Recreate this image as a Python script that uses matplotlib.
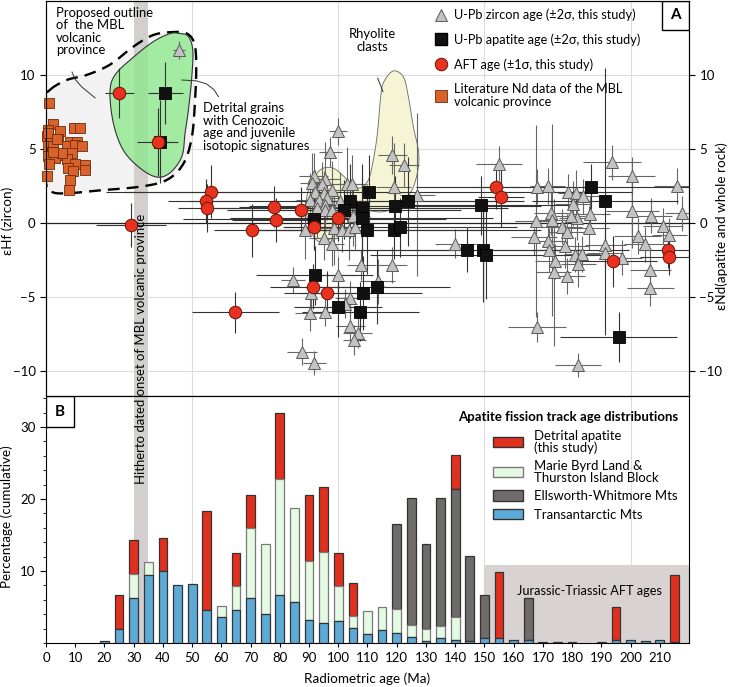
import matplotlib
matplotlib.use('Agg')
import matplotlib.pyplot as plt
from matplotlib.patches import Polygon, Rectangle, Patch
from matplotlib.lines import Line2D
import numpy as np

plt.rcParams['font.family'] = ['Lato', 'DejaVu Sans']
plt.rcParams['axes.unicode_minus'] = True

# ---------------- DATA: panel A ----------------
# U-Pb zircon ages (Ma) and eHf, with 2-sigma errors
zircon_age = [45.5, 99.9, 97.3, 118.5, 122.5, 91.6, 95.5, 91.0, 94.4, 103.0, 104.7, 119.0, 127.0,
              92.1, 95.0, 97.8, 90.4, 93.3, 96.1, 100.5, 95.5, 92.7, 95.5, 97.8, 105.0,
              98.4, 88.7, 101.3, 103.5, 105.8, 95.0, 97.8, 107.9, 118.5, 84.5, 99.8, 90.6,
              103.9, 102.4, 90.2, 95.3, 104.1, 106.6, 105.5, 87.6, 91.8, 113.5, 155.0, 140.0,
              168.0, 171.6, 167.5, 172.8, 173.2, 167.0, 171.7, 172.2, 174.3, 173.7, 168.0,
              193.7, 200.4, 216.0, 178.7, 181.2, 183.6, 180.3, 181.6, 179.5, 186.1, 200.6,
              207.1, 217.7, 176.5, 178.2, 185.7, 211.1, 213.2, 202.4, 204.9, 191.3, 177.7,
              191.2, 180.9, 183.5, 197.0, 182.1, 178.3, 206.7, 206.7, 182.0]
zircon_ehf = [11.7, 6.2, 4.8, 4.6, 3.9, 3.2, 3.0, 2.7, 2.6, 2.6, 2.6, 2.4, 1.9,
              2.1, 2.0, 2.2, 1.55, 1.55, 1.7, 1.45, 1.2, 1.0, 0.9, 0.9, 0.45,
              -0.35, -0.45, -0.5, -0.5, -0.25, -1.0, -1.4, -2.85, -2.85, -3.85, -3.5, -4.75,
              -5.1, -5.45, -6.1, -6.0, -7.0, -7.45, -7.9, -8.7, -9.45, -3.95, 4.0, -1.4,
              2.45, 2.5, 0.15, 0.7, 0.2, -0.95, -1.25, -1.85, -2.6, -3.35, -7.05,
              4.1, 3.15, 2.5, 2.1, 2.05, 1.8, 1.3, 0.35, 0.45, 0.6, 0.8,
              0.5, 0.65, -0.25, -0.6, -0.35, -0.2, -0.85, -0.9, -1.45, -1.5, -1.55,
              -2.05, -2.15, -2.1, -2.35, -2.8, -3.6, -3.2, -4.4, -9.6]
zircon_age_err = [2, 3, 4, 5, 5, 5, 5, 4, 5, 6, 5, 6, 6,
                  5, 4, 5, 5, 4, 5, 6, 4, 5, 5, 4, 6,
                  5, 6, 5, 5, 6, 5, 4, 5, 5, 4, 6, 4,
                  5, 4, 5, 4, 5, 5, 4, 5, 4, 6, 8, 7,
                  8, 6, 7, 6, 5, 8, 6, 6, 7, 6, 10,
                  10, 8, 8, 7, 6, 6, 6, 6, 5, 7, 9,
                  7, 6, 7, 6, 7, 7, 6, 8, 7, 7, 8,
                  6, 6, 6, 7, 6, 6, 7, 8, 8]
zircon_ehf_err = [0.6, 0.9, 1.0, 1.3, 1.5, 1.5, 2.5, 2.0, 1.5, 2.5, 2.0, 3.0, 5.5,
                  1.5, 1.5, 2.0, 1.8, 1.5, 1.5, 2.0, 1.5, 2.0, 1.5, 1.5, 2.0,
                  2.5, 2.0, 1.5, 2.0, 1.5, 1.5, 1.5, 1.0, 1.2, 0.9, 1.2, 1.5,
                  1.2, 1.0, 1.2, 1.0, 1.0, 1.0, 1.0, 0.9, 0.8, 1.5, 1.2, 1.0,
                  1.2, 1.2, 6.5, 1.5, 6.5, 1.2, 1.0, 1.5, 1.2, 5.0, 1.0,
                  1.2, 1.3, 1.2, 1.2, 1.5, 1.2, 1.5, 1.5, 1.2, 1.2, 2.5,
                  1.2, 1.2, 1.2, 1.2, 1.5, 1.2, 1.2, 1.2, 1.2, 1.5, 1.5,
                  1.2, 1.2, 1.2, 1.2, 1.5, 1.2, 1.5, 1.2, 0.8]

# U-Pb apatite ages (Ma) and eNd, with 2-sigma errors
apatite_age = [40.8, 39.0, 110.4, 103.9, 102.0, 108.1, 108.1, 91.8, 110.0, 119.5, 123.7, 119.2,
               121.0, 91.9, 99.8, 108.5, 113.2, 107.5, 148.9, 144.1, 149.6, 150.7, 186.5,
               191.4, 196.0]
apatite_end = [8.8, 5.5, 2.1, 1.5, 0.9, 1.0, 0.3, 0.25, -0.45, 1.15, 1.45, -0.45,
               -0.3, -3.55, -5.7, -4.75, -4.3, -6.0, 1.2, -1.8, -1.85, -2.15, 2.45,
               1.45, -7.7]
apatite_age_err = [6, 3, 90, 55, 40, 50, 45, 45, 40, 50, 40, 50,
                   40, 20, 15, 20, 25, 20, 30, 40, 50, 40, 60,
                   25, 20]
apatite_end_err = [2.1, 2.8, 2.5, 2.5, 2.0, 3.0, 3.0, 2.0, 3.0, 2.0, 3.0, 2.0,
                   2.0, 2.0, 2.0, 2.5, 2.5, 2.0, 2.0, 1.5, 3.5, 3.0, 1.5,
                   9.0, 1.7]

# AFT ages (Ma) with 1-sigma errors
aft_age = [25.1, 38.2, 29.1, 56.4, 54.6, 55.0, 70.5, 78.1, 78.7, 64.8, 87.2, 91.8, 100.0,
           91.5, 96.3, 154.0, 155.7, 194.0, 212.8, 213.2]
aft_eps = [8.8, 5.5, -0.15, 2.1, 1.5, 1.0, -0.5, 1.1, 0.2, -6.05, 0.9, -0.3, 0.3,
           -4.3, -4.75, 2.45, 1.75, -2.6, -1.85, -2.3]
aft_age_err = [5, 7, 12, 30, 13, 10, 13, 12, 15, 15, 12, 10, 12, 15, 15, 8, 8, 15, 10, 10]
aft_eps_err = [1.7, 2.3, 1.5, 1.8, 1.5, 1.6, 1.8, 1.4, 1.5, 1.4, 1.5, 1.5, 1.5,
               1.5, 1.5, 1.5, 2.0, 1.7, 1.2, 1.2]

# Literature Nd data of the MBL volcanic province (plotted in a column, no age)
lit_x = [1.0, 2.5, 0.8, 4.8, 9.6, 11.6, 0.2, 1.4, 4.2, 8.2, 10.5, 0.8, 2.5, 7.1, 9.9, 12.4,
         1.9, 4.2, 5.9, 8.8, 0.8, 3.1, 7.1, 9.9, 13.4, 1.1, 7.6, 9.4, 13.4, 0.2, 8.2, 7.8,
         0.6, 3.9, 5.4, 2.5]
lit_end = [8.1, 6.7, 6.3, 6.2, 6.4, 6.4, 5.9, 5.6, 5.7, 5.5, 5.5, 5.2, 5.2, 5.2, 5.3, 5.2,
           4.8, 4.6, 4.6, 4.7, 4.5, 4.4, 4.3, 4.0, 3.9, 4.0, 3.7, 3.5, 3.6, 3.2, 2.9, 2.25,
           6.1, 5.7, 4.7, 4.8]

# Outlined fields (age, epsilon)
mbl_outline_x = [1.4, 7.1, 13.9, 21.9, 29.8, 36.7, 43.5, 48.2, 50.8, 51.4, 51.0, 49.9, 47.0,
                 41.3, 32.2, 18.5, 7.1, 1.95, 0.0, -0.1, 0.0]
mbl_outline_y = [9.0, 9.66, 10.0, 10.7, 11.9, 12.7, 12.9, 12.8, 12.1, 10.6, 8.3, 5.8, 4.0,
                 2.9, 2.45, 2.2, 2.0, 2.1, 2.7, 4.9, 8.3]
cenozoic_x = [45.9, 48.7, 50.2, 49.9, 48.7, 47.6, 46.5, 42.5, 37.9, 32.2, 26.5, 23.1, 21.9,
              23.6, 29.9, 36.7, 42.5]
cenozoic_y = [12.8, 12.6, 11.7, 9.9, 7.6, 6.1, 4.5, 3.4, 3.1, 3.7, 4.9, 6.7, 8.8,
              10.0, 11.2, 12.25, 12.8]
rhyolite_x = [118.8, 122.3, 124.0, 125.7, 127.4, 127.4, 125.7, 122.9, 119.5, 114.4, 108.2,
              103.4, 99.0, 93.8, 90.4, 89.0, 90.4, 93.8, 97.9, 101.4, 104.1, 107.5, 110.3,
              112.0, 113.4, 114.4, 115.4]
rhyolite_y = [10.27, 9.86, 8.51, 6.49, 4.93, 3.78, 2.43, 1.55, 1.01, 0.74, 0.88,
              0.54, -0.81, -1.28, -0.47, 1.22, 2.57, 3.58, 3.72, 3.24, 2.70, 2.36, 2.91,
              4.26, 6.08, 8.31, 9.46]

# ---------------- DATA: panel B ----------------
bins = [20, 25, 30, 35, 40, 45, 50, 55, 60, 65, 70, 75, 80, 85, 90, 95, 100, 105, 110, 115,
        120, 125, 130, 135, 140, 145, 150, 155, 160, 165, 170, 175, 180, 185, 190, 195, 200,
        205, 210, 215]
transantarctic = [0.3, 2.0, 6.3, 9.5, 10.0, 8.0, 8.2, 4.6, 3.6, 4.6, 6.2, 4.0, 6.6, 5.7, 3.2,
                  2.8, 3.0, 2.1, 1.25, 1.8, 1.35, 0.8, 0.25, 0.7, 0.4, 0.3, 0.7, 0.7, 0.4, 0.4,
                  0, 0.2, 0, 0, 0, 0.35, 0.35, 0.25, 0.35, 0]
mbl_thurston = [0, 0, 3.3, 1.7, 0, 0, 0, 0, 1.6, 3.3, 9.8, 9.7, 16.2, 13.0, 8.2, 9.8, 4.9,
                1.65, 3.25, 3.25, 3.35, 1.65, 1.65, 1.66, 3.25, 0, 0, 0, 0, 0, 0, 0, 0, 0, 0,
                0, 0, 0, 0, 0]
ellsworth = [0, 0, 0, 0, 0, 0, 0, 0, 0, 0, 0, 0, 0, 0, 0, 0, 0, 0, 0, 0,
             11.8, 17.75, 11.85, 17.74, 17.75, 11.8, 6.0, 0, 0, 5.8, 0.15, 0, 0.15, 0, 0.15,
             0, 0, 0, 0, 0.2]
detrital = [0, 4.6, 4.7, 0, 4.6, 0, 0, 13.7, 0, 4.6, 4.6, 0, 9.1, 0, 9.1, 9.1, 4.55, 4.65,
            0, 0, 0, 0, 0, 0, 4.7, 0, 0, 9.1, 0, 0, 0, 0, 0, 0, 0, 4.6, 0, 0, 0, 9.2]

volcanic_onset = (30, 35)
jurassic_box = (150, 220, 10.8)


def smooth_closed(xs, ys, n=16):
    pts = np.column_stack([xs, ys])
    N = len(pts)
    out = []
    for i in range(N):
        p0, p1, p2, p3 = pts[(i - 1) % N], pts[i], pts[(i + 1) % N], pts[(i + 2) % N]
        for t in np.linspace(0, 1, n, endpoint=False):
            t2, t3 = t * t, t * t * t
            out.append(0.5 * ((2 * p1) + (-p0 + p2) * t + (2 * p0 - 5 * p1 + 4 * p2 - p3) * t2
                              + (-p0 + 3 * p1 - 3 * p2 + p3) * t3))
    return np.array(out)


W, H = 729, 687
fig = plt.figure(figsize=(W / 100, H / 100), dpi=100)
renderer = fig.canvas.get_renderer()


def fit_size(text, target_px, weight='normal', base=10.0):
    t = fig.text(0, 0, text, fontsize=base, fontweight=weight)
    w = t.get_window_extent(renderer=renderer).width
    t.remove()
    return base * target_px / w


FS_ANN = fit_size('isotopic signatures', 107)
FS_LEGA = fit_size('U-Pb zircon age (±2σ, this study)', 183)
FS_LEGB = fit_size('Ellsworth-Whitmore Mts', 143)
FS_TITB = fit_size('Apatite fission track age distributions', 220, weight='bold')
FS_BAND = fit_size('Hitherto dated onset of MBL volcanic province', 272)
FS_LAB = fit_size('Percentage (cumulative)', 142)
FS_JUR = fit_size('Jurassic-Triassic AFT ages', 145)
FS = 9.5

L, R = 46, 689
axA = fig.add_axes([L / W, 1 - 396 / H, (R - L) / W, (396 - 1) / H])
axB = fig.add_axes([L / W, 1 - 643 / H, (R - L) / W, (643 - 396) / H])

band_col = '#d4cfcf'

# ---------- Panel A ----------
axA.set_xlim(0, 220)
axA.set_ylim(-11.7, 15.0)
for v in [50, 100, 150, 200]:
    axA.axvline(v, color='#dcdcdc', lw=0.8, zorder=0)
for v in [-10, -5, 5, 10]:
    axA.axhline(v, color='#dcdcdc', lw=0.8, zorder=0)
axA.axhline(0, color='#222222', lw=0.9, zorder=2)

out = smooth_closed(mbl_outline_x, mbl_outline_y)
axA.add_patch(Polygon(out, closed=True, facecolor='#f2f2f2', edgecolor='none', zorder=0.5))
axA.axvspan(*volcanic_onset, color=band_col, lw=0, zorder=1)
axA.add_patch(Polygon(out, closed=True, facecolor='none', edgecolor='black', lw=1.7,
                      linestyle=(0, (5, 3)), zorder=1.2))
cz = smooth_closed(cenozoic_x, cenozoic_y)
axA.add_patch(Polygon(cz, closed=True, facecolor='#8fe88f', alpha=0.8, edgecolor='none', zorder=1.3))
axA.add_patch(Polygon(cz, closed=True, facecolor='none', edgecolor='#333333', lw=0.8, zorder=1.35))
rh = smooth_closed(rhyolite_x, rhyolite_y)
axA.add_patch(Polygon(rh, closed=True, facecolor='#f5f5d6', edgecolor='#666666', lw=0.6, zorder=1.4))

axA.errorbar(zircon_age, zircon_ehf, xerr=zircon_age_err, yerr=zircon_ehf_err, fmt='none',
             ecolor='#666666', elinewidth=0.8, capsize=0, zorder=3)
axA.errorbar(apatite_age, apatite_end, xerr=apatite_age_err, yerr=apatite_end_err, fmt='none',
             ecolor='#333333', elinewidth=0.8, capsize=0, zorder=3)
axA.errorbar(aft_age, aft_eps, xerr=aft_age_err, yerr=aft_eps_err, fmt='none',
             ecolor='#333333', elinewidth=0.8, capsize=0, zorder=3)

axA.plot(lit_x, lit_end, 's', ms=7.5, mfc='#d9612a', mec='#6e2a0c', mew=0.6, ls='none',
         zorder=5, clip_on=False)
axA.plot(zircon_age, zircon_ehf, '^', ms=9, mfc='#c3c3c3', mec='#5a5a5a', mew=0.7, ls='none', zorder=4)
axA.plot(apatite_age, apatite_end, 's', ms=8, mfc='#111111', mec='#000000', mew=0.6, ls='none', zorder=5)
axA.plot(aft_age, aft_eps, 'o', ms=9, mfc='#e8321f', mec='#6a1408', mew=0.7, ls='none', zorder=6)

axA.set_yticks([-10, -5, 0, 5, 10])
axA.tick_params(axis='y', labelsize=FS, direction='out', length=4, width=0.8)
axA.tick_params(axis='x', bottom=False, labelbottom=False)
axA.set_ylabel('εHf (zircon)', fontsize=FS_LAB)
axA.yaxis.set_label_coords(-0.050, 0.444)
axA2 = axA.twinx()
axA2.set_ylim(axA.get_ylim())
axA2.set_yticks([-10, -5, 0, 5, 10])
axA2.tick_params(axis='y', labelsize=FS, direction='out', length=4, width=0.8)
axA2.set_ylabel('εNd(apatite and whole rock)', fontsize=FS_LAB, rotation=90)
axA2.yaxis.set_label_coords(1.041, 0.43)

# annotations
axA.text(3.4, 14.6, 'Proposed outline\nof  the MBL\nvolcanic\nprovince', fontsize=FS_ANN,
         va='top', ha='left', linespacing=1.05, zorder=8)
axA.plot([8.9, 10.0, 12.2, 16.8], [10.2, 9.7, 9.2, 8.45], color='#333333', lw=0.7, zorder=8)
axA.text(53.8, 8.15, 'Detrital grains\nwith Cenozoic\nage and juvenile\nisotopic signatures',
         fontsize=FS_ANN, va='top', ha='left', linespacing=1.05, zorder=8)
axA.plot([46.5, 51.5, 55.0, 57.5, 59.0], [9.66, 9.6, 9.39, 9.0, 8.53], color='#333333', lw=0.7, zorder=8)
axA.text(111.8, 13.15, 'Rhyolite\nclasts', fontsize=FS_ANN, va='top', ha='center', linespacing=1.05, zorder=8)
axA.plot([113.5, 115.3], [9.78, 8.87], color='#333333', lw=0.7, zorder=8)

# panel label A
axA.add_patch(Rectangle((0.958, 0.927), 0.042, 0.073, transform=axA.transAxes,
                        facecolor='white', edgecolor='black', lw=1, zorder=9))
axA.text(0.979, 0.9635, 'A', transform=axA.transAxes, ha='center', va='center',
         fontsize=11, fontweight='bold', zorder=10)

hA = [Line2D([], [], marker='^', ls='none', ms=9, mfc='#c3c3c3', mec='#5a5a5a', mew=0.7),
      Line2D([], [], marker='s', ls='none', ms=8, mfc='#111111', mec='#000000'),
      Line2D([], [], marker='o', ls='none', ms=9, mfc='#e8321f', mec='#6a1408', mew=0.7),
      Line2D([], [], marker='s', ls='none', ms=8, mfc='#d9612a', mec='#6e2a0c', mew=0.6)]
labA = ['U-Pb zircon age (±2σ, this study)', 'U-Pb apatite age (±2σ, this study)',
        'AFT age (±1σ, this study)', 'Literature Nd data of the MBL\nvolcanic province']
fsA_px = FS_LEGA * 100 / 72
legA = axA.legend(hA, labA, loc='upper left', bbox_to_anchor=((434 - L) / (R - L), 1 - 7.5 / 395),
                  frameon=False, fontsize=FS_LEGA, handlelength=13 / fsA_px,
                  handletextpad=7 / fsA_px, labelspacing=12.3 / fsA_px,
                  borderpad=0, borderaxespad=0)
for t in legA.get_texts():
    t.set_linespacing(1.06)
legA.set_zorder(10)

# ---------- Panel B ----------
axB.set_xlim(0, 220)
axB.set_ylim(0, 34.3)
for v in [50, 100, 150, 200]:
    axB.axvline(v, color='#dcdcdc', lw=0.8, zorder=0)
axB.axvspan(*volcanic_onset, color=band_col, lw=0, zorder=0.5)
axB.add_patch(Rectangle((jurassic_box[0], 0), jurassic_box[1] - jurassic_box[0], jurassic_box[2],
                        facecolor='#d8d3d2', edgecolor='none', zorder=0.6))
axB.text(186, 7.2, 'Jurassic-Triassic AFT ages', fontsize=FS_JUR, ha='center', va='center', zorder=1)

bins_a = np.array(bins)
b0 = np.array(transantarctic)
b1 = np.array(mbl_thurston)
b2 = np.array(ellsworth)
b3 = np.array(detrital)
bw = 3.0
m = b0 > 0
axB.bar(bins_a[m], b0[m], width=bw, color='#5eaad6', edgecolor='#333333', lw=0.9, zorder=3)
m = b1 > 0
axB.bar(bins_a[m], b1[m], bottom=b0[m], width=bw, color='#e5fae3', edgecolor='#7a7a7a', lw=0.9, zorder=2.9)
m = b2 > 0
axB.bar(bins_a[m], b2[m], bottom=(b0 + b1)[m], width=bw, color='#6f6b6a', edgecolor='#333333', lw=0.9, zorder=2.8)
m = b3 > 0
axB.bar(bins_a[m], b3[m], bottom=(b0 + b1 + b2)[m], width=bw, color='#e2301f', edgecolor='#333333', lw=0.9, zorder=2.7)

axB.set_xticks(range(0, 211, 10))
axB.set_yticks([10, 20, 30])
axB.set_yticks(range(0, 35, 2), minor=True)
axB.tick_params(axis='both', labelsize=FS, direction='out', width=0.8)
axB.tick_params(axis='y', which='major', length=4)
axB.tick_params(axis='y', which='minor', length=2.5, width=0.6)
axB.tick_params(axis='x', length=3)
axB.set_ylabel('Percentage (cumulative)', fontsize=FS_LAB)
axB.yaxis.set_label_coords(-0.052, 0.51)
axB.set_xlabel('Radiometric age (Ma)', fontsize=FS_LAB)
axB.xaxis.set_label_coords(0.499, -0.118)

axB.add_patch(Rectangle((0, 0.8745), 0.043, 0.1255, transform=axB.transAxes,
                        facecolor='white', edgecolor='black', lw=1, zorder=9))
axB.text(0.0215, 0.937, 'B', transform=axB.transAxes, ha='center', va='center',
         fontsize=11, fontweight='bold', zorder=10)

hB = [Patch(facecolor='#e2301f', edgecolor='#333333'),
      Patch(facecolor='#e5fae3', edgecolor='#7a7a7a'),
      Patch(facecolor='#6f6b6a', edgecolor='#333333'),
      Patch(facecolor='#5eaad6', edgecolor='#333333')]
labB = ['Detrital apatite\n(this study)', 'Marie Byrd Land &\nThurston Island Block',
        'Ellsworth-Whitmore Mts', 'Transantarctic Mts']
fsB_px = FS_LEGB * 100 / 72
legB = axB.legend(hB, labB, loc='upper right', bbox_to_anchor=((678 - L) / (R - L), 1 - 15 / 247),
                  frameon=False, fontsize=FS_LEGB, handlelength=30 / fsB_px, handleheight=11 / fsB_px,
                  handletextpad=11 / fsB_px, labelspacing=0.5, borderpad=0, borderaxespad=0,
                  title='Apatite fission track age distributions', alignment='right',
                  title_fontproperties={'weight': 'bold', 'size': FS_TITB})
for t in legB.get_texts():
    t.set_linespacing(0.95)
legB.set_zorder(10)

fig.text(141 / W, 1 - 349 / H, 'Hitherto dated onset of MBL volcanic province', rotation=90,
         ha='center', va='center', fontsize=FS_BAND, zorder=20)

fig.savefig('out.png', dpi=100)
